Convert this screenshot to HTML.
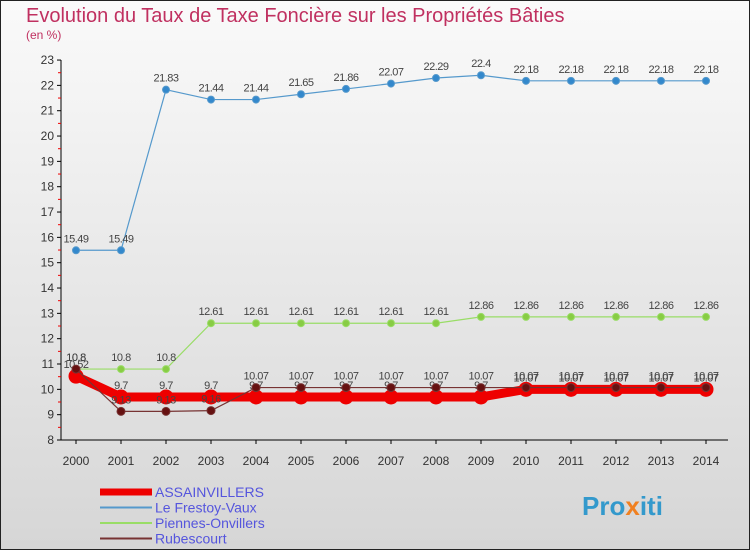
<!DOCTYPE html>
<html><head><meta charset="utf-8"><style>
body{margin:0}
#c{width:750px;height:550px;position:relative;overflow:hidden;font-family:"Liberation Sans",sans-serif}
</style></head><body>
<div id="c">
<svg id="s" width="750" height="550" xmlns="http://www.w3.org/2000/svg">
<defs><linearGradient id="bg" x1="0" y1="0" x2="0" y2="1"><stop offset="0" stop-color="#fafafa"/><stop offset="1" stop-color="#d6d6d6"/></linearGradient></defs>
<rect x="0.5" y="0.5" width="749" height="549" fill="url(#bg)" stroke="#222"/>
<text x="26" y="22" font-size="20" fill="#c03060">Evolution du Taux de Taxe Foncière sur les Propriétés Bâties</text>
<text x="26" y="39" font-size="12" fill="#c03060">(en %)</text>
<g id="axes"></g><g id="series"></g><g id="legend"></g>
<text x="582" y="515" font-size="26" font-weight="bold" fill="#3399cc">Pro<tspan fill="#f08020">x</tspan>iti</text>
</svg></div>
<script>
const years=[2000,2001,2002,2003,2004,2005,2006,2007,2008,2009,2010,2011,2012,2013,2014];
const yTicks=[8,9,10,11,12,13,14,15,16,17,18,19,20,21,22,23];
const assain=[10.52,9.7,9.7,9.7,9.7,9.7,9.7,9.7,9.7,9.7,10.0,10.0,10.0,10.0,10.0];
const assainLbl=["10.52","9.7","9.7","9.7","9.7","9.7","9.7","9.7","9.7","9.7","10.07","10.07","10.07","10.07","10.07"];
const frestoy=[15.49,15.49,21.83,21.44,21.44,21.65,21.86,22.07,22.29,22.4,22.18,22.18,22.18,22.18,22.18];
const piennes=[10.8,10.8,10.8,12.61,12.61,12.61,12.61,12.61,12.61,12.86,12.86,12.86,12.86,12.86,12.86];
const rubes=[10.8,9.13,9.13,9.16,10.07,10.07,10.07,10.07,10.07,10.07,10.07,10.07,10.07,10.07,10.07];
const NS="http://www.w3.org/2000/svg";
const X=i=>76+i*45, Y=v=>440-(v-8)*25.33;
function mk(t,a,p){const e=document.createElementNS(NS,t);for(const k in a)e.setAttribute(k,a[k]);p.appendChild(e);return e;}
const ax=document.getElementById('axes');
let l=mk('line',{x1:61,y1:60,x2:61,y2:440,stroke:'#000'},ax);


l=mk('line',{x1:61,y1:440,x2:728,y2:440,stroke:'#000'},ax);


yTicks.forEach(v=>{
 mk('line',{x1:57,y1:Y(v),x2:61,y2:Y(v),stroke:'#000'},ax);
 if(v<23)mk('line',{x1:58,y1:Y(v+0.5),x2:61,y2:Y(v+0.5),stroke:'#e00'},ax);
 const t=mk('text',{x:54,y:Y(v)+4,'font-size':12,fill:'#333','text-anchor':'end'},ax);t.textContent=v;
 
 
});
years.forEach((y,i)=>{
 mk('line',{x1:X(i),y1:440,x2:X(i),y2:444,stroke:'#000'},ax);
 const t=mk('text',{x:X(i),y:465,'font-size':12,fill:'#333','text-anchor':'middle'},ax);t.textContent=y;
 
 
});
const sg=document.getElementById('series');
function series(name,data,col,w,r,mcol,lbls){
 const g=mk('g',{},sg);
 
 
 mk('polyline',{points:data.map((v,i)=>X(i)+','+Y(v)).join(' '),fill:'none',stroke:col,'stroke-width':w},g);
 data.forEach((v,i)=>{
  const c=mk('circle',{cx:X(i),cy:Y(v),r:r,fill:mcol,stroke:col,'stroke-width':1},g);
  
  
  const t=mk('text',{x:X(i),y:Y(v)-8,'font-size':11,fill:'#444','text-anchor':'middle','letter-spacing':'-0.5'},g);
  t.textContent=lbls?lbls[i]:String(v);
 });
}
series('series-assainvillers',assain,'#ee0000',9,7,'#ee0000',assainLbl);
series('series-le-frestoy-vaux',frestoy,'#5599cc',1.2,3.5,'#3388cc');
series('series-piennes-onvillers',piennes,'#99dd66',1.2,3.5,'#88cc44');
series('series-rubescourt',rubes,'#773333',1.2,4,'#661111');
const lg=document.getElementById('legend');
[['ASSAINVILLERS','#ee0000',7],['Le Frestoy-Vaux','#5599cc',2],['Piennes-Onvillers','#99dd66',2],['Rubescourt','#773333',2]].forEach((d,i)=>{
 const y=492+i*15.5;
 const g=mk('g',{},lg);
 
 
 mk('line',{x1:100,y1:y,x2:152,y2:y,stroke:d[1],'stroke-width':d[2]},g);
 const t=mk('text',{x:155,y:y+5,'font-size':14,fill:'#5555dd'},g);t.textContent=d[0];
});
</script>
</body></html>
